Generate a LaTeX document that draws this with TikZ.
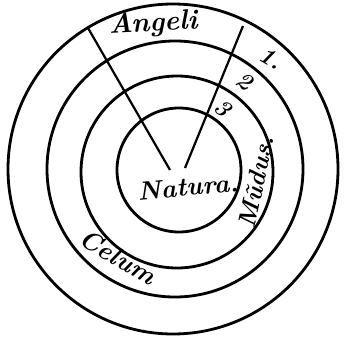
\documentclass[tikz,border=0pt]{standalone}
\usepackage{tikz}
\tikzset{
  ring/.style = {line width=2.8pt},
  spoke/.style = {line width=2.2pt},
  lbl/.style = {font=\fontsize{28}{30}\selectfont\bfseries\itshape, inner sep=0pt},
  numlbl/.style = {lbl, font=\fontsize{24}{26}\selectfont\bfseries\itshape}
}

\begin{document}
\begin{tikzpicture}[x=1pt, y=-1pt]
            \useasboundingbox (0,0) rectangle (344,342);
            % rings
            \draw[ring] (173,169) circle (165);
            \draw[ring] (175,169) circle (128);
            \draw[ring] (177,172) circle (96);
            \draw[ring] (179,170) circle (62);
            % spokes
            \coordinate (lefttop) at (88,28);
            \coordinate (righttop) at (243,26);
            \coordinate (leftfoot) at (170,170);
            \coordinate (rightfoot) at (185,168);
            \draw[spoke] (lefttop) -- (leftfoot);
            \draw[spoke] (righttop) -- (rightfoot);
            % labels
            \node[lbl, rotate=3] (angeli) at (153,24) {Angeli};
            \node[numlbl, rotate=-30] (one) at (271,58) {1.};
            \node[numlbl, rotate=-35] (two) at (245,81) {2};
            \node[numlbl, rotate=-40] (three) at (223,108) {3};
            \node[lbl, rotate=78, font=\fontsize{25}{27}\selectfont\bfseries\itshape] (mundus) at (256,182) {Mũdus.};
            \node[lbl, rotate=5, font=\fontsize{26}{28}\selectfont\bfseries\itshape] (natura) at (188,187) {Natura.};
            \node[lbl, rotate=-30, font=\fontsize{26}{28}\selectfont\bfseries\itshape] (celum) at (118,257) {Celum};
        \end{tikzpicture}
\end{document}
